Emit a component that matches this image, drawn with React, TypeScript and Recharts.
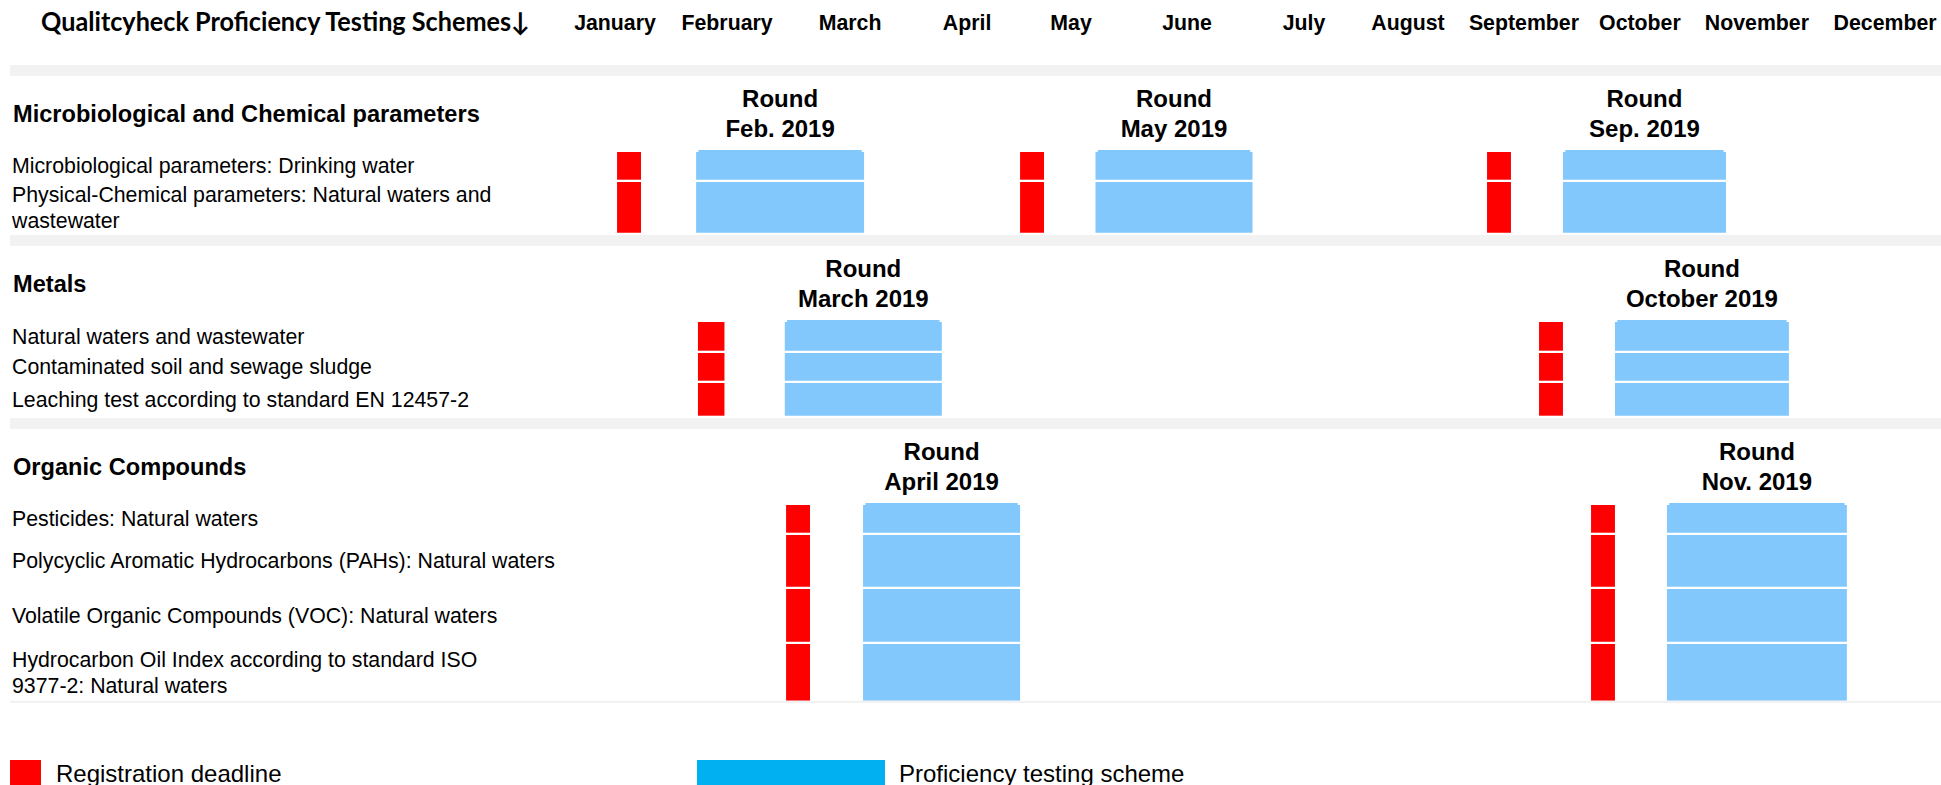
import React from 'react';
import { ComposedChart, XAxis, YAxis, ReferenceArea } from 'recharts';

// ---------------- data ----------------
const title = 'Qualitcyheck Proficiency Testing Schemes↓';

const months = ['January', 'February', 'March', 'April', 'May', 'June', 'July', 'August', 'September', 'October', 'November', 'December'];
// centre of each month heading, in weeks from the start of the year
const monthWeek = [2.0, 6.31, 11.04, 15.54, 19.54, 24.0, 28.5, 32.5, 36.96, 41.42, 45.92, 50.85];

const sectionNames = ['Microbiological and Chemical parameters', 'Metals', 'Organic Compounds'];

const microSchemes = [
  'Microbiological parameters: Drinking water',
  'Physical-Chemical parameters: Natural waters and\nwastewater',
];
const metalSchemes = [
  'Natural waters and wastewater',
  'Contaminated soil and sewage sludge',
  'Leaching test according to standard EN 12457-2',
];
const organicSchemes = [
  'Pesticides: Natural waters',
  'Polycyclic Aromatic Hydrocarbons (PAHs): Natural waters',
  'Volatile Organic Compounds (VOC): Natural waters',
  'Hydrocarbon Oil Index according to standard ISO\n9377-2: Natural waters',
];

// rounds (week positions)
const microRounds = ['Feb. 2019', 'May 2019', 'Sep. 2019'];
const microDeadlineFrom = [2.08, 17.58, 35.54];
const microDeadlineTo = [3.0, 18.5, 36.46];
const microSchemeFrom = [5.12, 20.48, 38.46];
const microSchemeTo = [11.58, 26.52, 44.73];

const metalRounds = ['March 2019', 'October 2019'];
const metalDeadlineFrom = [5.19, 37.54];
const metalDeadlineTo = [6.21, 38.46];
const metalSchemeFrom = [8.53, 40.46];
const metalSchemeTo = [14.57, 47.15];

const organicRounds = ['April 2019', 'Nov. 2019'];
const organicDeadlineFrom = [8.58, 39.54];
const organicDeadlineTo = [9.5, 40.46];
const organicSchemeFrom = [11.54, 42.46];
const organicSchemeTo = [17.58, 49.38];

const legendLabels = ['Registration deadline', 'Proficiency testing scheme'];

// ---------------- layout / style ----------------
const W = 1941;
const H = 785;
const LABEL_COL = 563;
const WEEKS = 53;
const X_AXIS_H = 1;
const TITLE_H = 65;
const BAND_H = 11;
const HEADER_H = 76;
const CELL_GAP = 2.3;
const CAP_H = 2;
const CAP_INSET = 0.09;
const LINE_H = 26;
const rowHeights = [[30, 53], [31, 30, 35], [30, 54, 55, 59]];

const RED = '#ff0000';
const BLUE = '#83c8fc';
const LEGEND_BLUE = '#00b0f0';
const GREY = '#f2f2f2';
const ARIAL = "'Liberation Sans', Arial, sans-serif";

const sections = [
  { name: sectionNames[0], rows: microSchemes, rounds: microRounds, dFrom: microDeadlineFrom, dTo: microDeadlineTo, sFrom: microSchemeFrom, sTo: microSchemeTo },
  { name: sectionNames[1], rows: metalSchemes, rounds: metalRounds, dFrom: metalDeadlineFrom, dTo: metalDeadlineTo, sFrom: metalSchemeFrom, sTo: metalSchemeTo },
  { name: sectionNames[2], rows: organicSchemes, rounds: organicRounds, dFrom: organicDeadlineFrom, dTo: organicDeadlineTo, sFrom: organicSchemeFrom, sTo: organicSchemeTo },
];

type Slot = { kind: string; tick: number; text?: string };
const slots: Slot[] = [];
const rowBoxes: { top: number; bottom: number }[][] = [];
{
  let y = 0;
  slots.push({ kind: 'title', tick: y + TITLE_H / 2 });
  y += TITLE_H;
  sections.forEach((sec, s) => {
    slots.push({ kind: 'band', tick: y + BAND_H / 2 });
    y += BAND_H;
    slots.push({ kind: 'header', tick: y + HEADER_H / 2, text: sec.name });
    y += HEADER_H;
    const boxes: { top: number; bottom: number }[] = [];
    sec.rows.forEach((label, r) => {
      const h = rowHeights[s][r];
      const top = y;
      const bottom = y + h - CELL_GAP;
      boxes.push({ top, bottom });
      slots.push({ kind: 'row', tick: (top + bottom) / 2, text: label });
      y += h;
    });
    rowBoxes.push(boxes);
  });
  slots.push({ kind: 'rule', tick: y - CELL_GAP / 2 });
}
const yTicks = slots.map((s) => s.tick);

const XTick = (props: any) => {
  const { x, payload } = props;
  const i = monthWeek.indexOf(payload.value);
  return (
    <text x={x} y={30} textAnchor="middle" fontFamily={ARIAL} fontWeight={700} fontSize={21.3} fill="#000">
      {months[i]}
    </text>
  );
};

const YTick = (props: any) => {
  const { y, payload } = props;
  const slot = slots.find((s) => Math.abs(s.tick - payload.value) < 1e-6);
  if (!slot) return null;
  if (slot.kind === 'title') {
    return (
      <text x={41} y={y - 1.5} fontFamily="Lato, 'Open Sans', sans-serif" fontWeight={700} fontSize={26} textLength={489} lengthAdjust="spacingAndGlyphs" fill="#000">
        {title}
      </text>
    );
  }
  if (slot.kind === 'band') {
    return <rect x={10} y={y - BAND_H / 2} width={W - 10} height={BAND_H} fill={GREY} />;
  }
  if (slot.kind === 'rule') {
    return <rect x={10} y={y - CELL_GAP / 2} width={W - 10} height={CELL_GAP} fill={GREY} />;
  }
  if (slot.kind === 'header') {
    return (
      <text x={13} y={y + 8} fontFamily={ARIAL} fontWeight={700} fontSize={23.6} fill="#000">
        {slot.text}
      </text>
    );
  }
  const lines = (slot.text || '').split('\n');
  const n = lines.length;
  return (
    <text fontFamily={ARIAL} fontSize={21.3} fill="#000">
      {lines.map((ln, i) => (
        <tspan key={i} x={12} y={y + 7.5 + (i - (n - 1) / 2) * LINE_H}>
          {ln}
        </tspan>
      ))}
    </text>
  );
};

const roundLabel = (name: string) => (p: any) => {
  const vb = p && p.viewBox ? p.viewBox : p;
  const cx = vb.x + vb.width / 2;
  return (
    <text textAnchor="middle" fontFamily={ARIAL} fontWeight={700} fontSize={24} fill="#000">
      <tspan x={cx} y={vb.y - 45.5}>Round</tspan>
      <tspan x={cx} y={vb.y - 15.5}>{name}</tspan>
    </text>
  );
};

const cells: React.ReactElement[] = [];
sections.forEach((sec, s) => {
  sec.rounds.forEach((rd, k) => {
    const first = rowBoxes[s][0];
    // thin cap on top of the scheme block
    cells.push(
      <ReferenceArea
        key={`c-${s}-${k}`}
        x1={sec.sFrom[k] + CAP_INSET}
        x2={sec.sTo[k] - CAP_INSET}
        y1={first.top - CAP_H}
        y2={first.top}
        fill={BLUE}
        fillOpacity={1}
        stroke="none"
      />
    );
  });
  rowBoxes[s].forEach((box, r) => {
    sec.rounds.forEach((rd, k) => {
      cells.push(
        <ReferenceArea
          key={`d-${s}-${r}-${k}`}
          x1={sec.dFrom[k]}
          x2={sec.dTo[k]}
          y1={box.top}
          y2={box.bottom}
          fill={RED}
          fillOpacity={1}
          stroke="none"
        />
      );
      cells.push(
        <ReferenceArea
          key={`s-${s}-${r}-${k}`}
          x1={sec.sFrom[k]}
          x2={sec.sTo[k]}
          y1={box.top}
          y2={box.bottom}
          fill={BLUE}
          fillOpacity={1}
          stroke="none"
          label={r === 0 ? roundLabel(rd) : undefined}
        />
      );
    });
  });
});

const legendColors = [RED, LEGEND_BLUE];
const legendBoxes = [
  { left: 10, width: 31, textLeft: 56 },
  { left: 697, width: 188, textLeft: 899 },
];

export default function App() {
  return (
    <div style={{ position: 'absolute', left: 0, top: 0, width: W, height: H, overflow: 'hidden', background: '#fff' }}>
      <ComposedChart width={W} height={H} margin={{ top: 0, right: 0, bottom: 0, left: 0 }} data={[]}>
        <XAxis
          type="number"
          dataKey="w"
          orientation="top"
          height={X_AXIS_H}
          domain={[0, WEEKS]}
          allowDataOverflow
          ticks={monthWeek}
          interval={0}
          axisLine={false}
          tickLine={false}
          tick={XTick}
        />
        <YAxis
          type="number"
          width={LABEL_COL}
          domain={[X_AXIS_H, H]}
          allowDataOverflow
          reversed
          ticks={yTicks}
          interval={0}
          axisLine={false}
          tickLine={false}
          tick={YTick}
        />
        {cells}
      </ComposedChart>
      {legendLabels.map((lab, i) => (
        <React.Fragment key={lab}>
          <div
            style={{
              position: 'absolute',
              left: legendBoxes[i].left,
              top: 760,
              width: legendBoxes[i].width,
              height: 30,
              background: legendColors[i],
            }}
          />
          <div
            style={{
              position: 'absolute',
              left: legendBoxes[i].textLeft,
              top: 761.7,
              fontFamily: ARIAL,
              fontSize: 24,
              lineHeight: '24px',
              whiteSpace: 'nowrap',
              color: '#000',
            }}
          >
            {lab}
          </div>
        </React.Fragment>
      ))}
    </div>
  );
}
